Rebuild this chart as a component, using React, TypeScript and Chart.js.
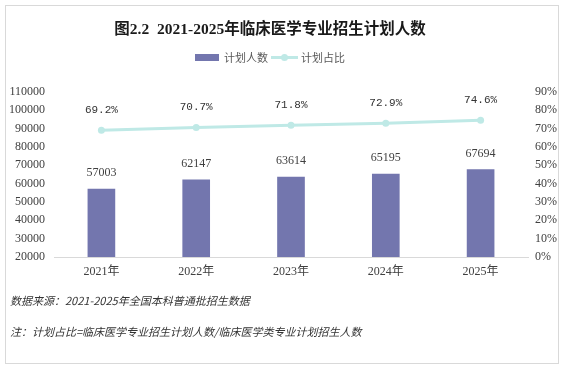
import React, { useEffect, useRef } from 'react';
import { Chart, registerables } from 'chart.js';

Chart.register(...registerables);

const categories = ['2021年', '2022年', '2023年', '2024年', '2025年'];
const planCounts = [57003, 62147, 63614, 65195, 67694];
const planShares = [69.2, 70.7, 71.8, 72.9, 74.6];
const seriesNames = ['计划人数', '计划占比'];
const titleText = '图2.2  2021-2025年临床医学专业招生计划人数';
const sourceNote = '数据来源：2021-2025年全国本科普通批招生数据';
const formulaNote = '注：计划占比=临床医学专业招生计划人数/临床医学类专业计划招生人数';

const BAR = '#7376ae';
const LINE = '#bfe9e6';
const SERIF = "'Liberation Serif', 'Noto Sans CJK SC', serif";
const CJK = "'Noto Sans CJK SC', sans-serif";
const TEXT = '#404040';

const overlayPlugin = {
  id: 'overlay',
  afterDatasetsDraw(chart: any) {
    const ctx = chart.ctx as CanvasRenderingContext2D;
    ctx.save();
    ctx.textAlign = 'center';
    ctx.textBaseline = 'middle';
    // value labels
    ctx.fillStyle = TEXT;
    ctx.font = `12px ${SERIF}`;
    chart.getDatasetMeta(0).data.forEach((el: any, i: number) => {
      ctx.fillText(String(planCounts[i]), el.x, el.y - 16);
    });
    ctx.fillStyle = '#333333';
    ctx.font = `11px 'Liberation Mono', monospace`;
    chart.getDatasetMeta(1).data.forEach((el: any, i: number) => {
      ctx.fillText(planShares[i].toFixed(1) + '%', el.x, el.y - 20);
    });
    // title
    const cx = 270;
    ctx.fillStyle = '#1a1a1a';
    ctx.font = `bold 15.5px ${SERIF}`;
    ctx.fillText(titleText, cx, 30);
    // legend
    ctx.font = `11px ${CJK}`;
    const w1 = ctx.measureText(seriesNames[0]).width;
    const w2 = ctx.measureText(seriesNames[1]).width;
    const sw = 24, lw = 27, gap = 5, gap2 = 3;
    const total = sw + gap + w1 + gap2 + lw + gap2 + w2;
    let x = cx - total / 2;
    const ly = 57.5;
    ctx.fillStyle = BAR;
    ctx.fillRect(x, ly - 3.5, sw, 7);
    x += sw + gap;
    ctx.fillStyle = '#595959';
    ctx.textAlign = 'left';
    ctx.fillText(seriesNames[0], x, ly);
    x += w1 + gap2;
    ctx.strokeStyle = LINE;
    ctx.lineWidth = 3;
    ctx.beginPath();
    ctx.moveTo(x, ly);
    ctx.lineTo(x + lw, ly);
    ctx.stroke();
    ctx.fillStyle = LINE;
    ctx.beginPath();
    ctx.arc(x + lw / 2, ly, 3.5, 0, Math.PI * 2);
    ctx.fill();
    x += lw + gap2;
    ctx.fillStyle = '#595959';
    ctx.fillText(seriesNames[1], x, ly);
    ctx.restore();
  },
};

export default function App() {
  const ref = useRef<HTMLCanvasElement | null>(null);

  useEffect(() => {
    if (!ref.current) return;
    const chart = new Chart(ref.current, {
      type: 'bar',
      data: {
        labels: categories,
        datasets: [
          {
            type: 'bar',
            label: seriesNames[0],
            data: planCounts,
            backgroundColor: BAR,
            barThickness: 27,
            yAxisID: 'y',
            order: 2,
          },
          {
            type: 'line',
            label: seriesNames[1],
            data: planShares,
            borderColor: LINE,
            backgroundColor: LINE,
            borderWidth: 3,
            pointRadius: 3.5,
            pointBorderWidth: 0,
            pointBackgroundColor: LINE,
            yAxisID: 'y1',
            order: 1,
          } as any,
        ],
      },
      options: {
        responsive: false,
        animation: false,
        devicePixelRatio: 1,
        layout: { padding: { top: 92, bottom: 81, left: 0, right: 0 } },
        plugins: {
          legend: { display: false },
          title: { display: false },
          tooltip: { enabled: false },
        },
        scales: {
          x: {
            grid: { display: false, drawTicks: false },
            border: { display: true, color: '#d9d9d9', width: 1 },
            ticks: { color: TEXT, font: { family: SERIF, size: 12 }, padding: 8 },
            afterFit: (s: any) => { s.height = 30; },
          },
          y: {
            position: 'left',
            min: 20000,
            max: 110000,
            grid: { display: false, drawTicks: false },
            border: { display: false },
            ticks: {
              stepSize: 10000,
              color: TEXT,
              font: { family: SERIF, size: 12 },
              padding: 9,
              callback: (v: any) => String(Math.round(Number(v))),
            },
            afterFit: (s: any) => { s.width = 54; },
          },
          y1: {
            position: 'right',
            min: 0,
            max: 90,
            grid: { display: false, drawTicks: false },
            border: { display: false },
            ticks: {
              stepSize: 10,
              color: TEXT,
              font: { family: SERIF, size: 12 },
              padding: 7,
              callback: (v: any) => `${Math.round(Number(v))}%`,
            },
            afterFit: (s: any) => { s.width = 36; },
          },
        },
      },
      plugins: [overlayPlugin],
    });
    return () => chart.destroy();
  }, []);

  const noteStyle: React.CSSProperties = {
    position: 'absolute',
    left: 10,
    fontFamily: CJK,
    fontStyle: 'italic',
    fontSize: 11,
    lineHeight: '14px',
    color: '#333333',
    whiteSpace: 'nowrap',
  };

  return (
    <div style={{ position: 'absolute', left: 0, top: 0, width: 564, height: 368, background: '#ffffff', overflow: 'hidden' }}>
      <div style={{ position: 'absolute', left: 5, top: 5, width: 552, height: 357, border: '1px solid #d9d9d9' }} />
      <canvas ref={ref} width={564} height={368} style={{ position: 'absolute', left: 0, top: 0, width: 564, height: 368 }} />
      <div style={{ ...noteStyle, top: 293 }}>{sourceNote}</div>
      <div style={{ ...noteStyle, top: 324 }}>{formulaNote}</div>
    </div>
  );
}
